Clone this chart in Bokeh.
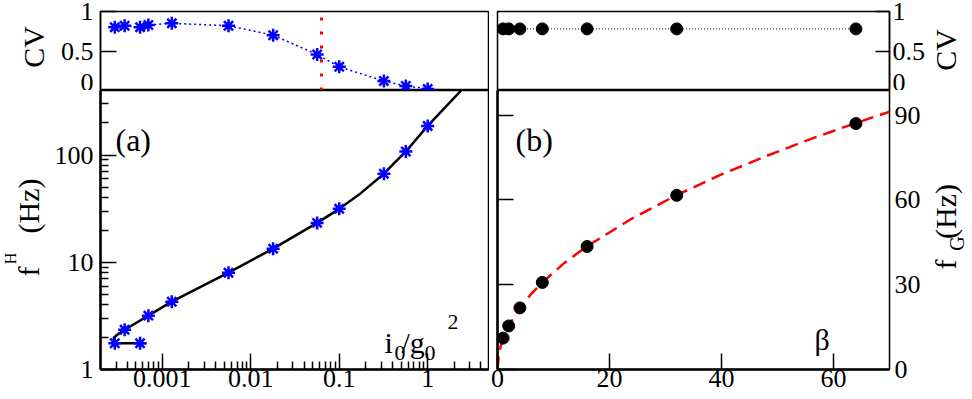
import math
from bokeh.plotting import figure
from bokeh.models import Range1d, FixedTicker, CustomJSTickFormatter, Label, LinearAxis
from bokeh.layouts import column, row
from bokeh.embed import file_html
from bokeh.resources import INLINE

# ---------------- data: panel (a) ----------------
a_ratio = [2.9e-4, 3.75e-4, 5.6e-4, 6.95e-4, 1.28e-3, 5.6e-3, 0.0179, 0.0563, 0.1, 0.32, 0.566, 1.0]
a_cv = [0.80, 0.82, 0.80, 0.83, 0.85, 0.82, 0.70, 0.456, 0.30, 0.12, 0.058, 0.02]
a_fH = [1.76, 2.35, 1.76, 3.18, 4.29, 8.0, 13.4, 23.3, 31.5, 67.0, 108.0, 187.0]
a_curve_ratio = [6.6e-4, 2.9e-4, 2.82e-4, 3.2e-4, 3.75e-4, 6.95e-4, 1.28e-3, 5.6e-3,
                 0.0179, 0.0563, 0.1, 0.174, 0.32, 0.566, 1.0, 2.39]
a_curve_fH = [1.76, 1.76, 1.98, 2.15, 2.35, 3.18, 4.29, 8.0,
              13.4, 23.3, 31.5, 43.9, 67.0, 108.0, 187.0, 400.0]
a_threshold = 0.063

# ---------------- data: panel (b) ----------------
b_beta = [1, 2, 4, 8, 16, 32, 64]
b_cv = [0.78, 0.78, 0.78, 0.78, 0.78, 0.78, 0.78]
b_fG = [11.1, 15.4, 21.8, 30.8, 43.5, 61.6, 87.0]
b_fit_beta = [0, 0.25, 0.5, 1, 2, 4, 6, 8, 12, 16, 24, 32, 40, 48, 56, 64, 70]
b_fit_fG = [0, 5.4, 7.7, 10.9, 15.4, 21.8, 26.7, 30.8, 37.8, 43.6, 53.4, 61.7, 69.0, 75.5, 81.6, 87.2, 91.2]

# ---------------- ticks ----------------
a_x_ticks = [0.001, 0.01, 0.1, 1]
a_x_labels = ["0.001", "0.01", "0.1", "1"]
a_x_minor = [k * 10.0 ** e for e in range(-4, 1) for k in range(2, 10) if 2.05e-4 < k * 10.0 ** e < 4.95]
a_y_ticks = [1, 10, 100]
a_y_labels = ["1", "10", "100"]
a_y_minor = [k * 10.0 ** e for e in range(0, 3) for k in range(2, 10) if k * 10.0 ** e < 399]
cv_ticks = [0, 0.5, 1]
cv_labels = ["0", "0.5", "1"]
b_x_ticks = [0, 20, 40, 60]
b_x_labels = ["0", "20", "40", "60"]
b_y_ticks = [0, 30, 60, 90]
b_y_labels = ["0", "30", "60", "90"]

FONT = "Liberation Serif"
TICK_FS = "26px"
PAGE_H = 399
UP = math.pi / 2   # text reading bottom-to-top

LEFT_STRIP_W = 50
RIGHT_STRIP_X0 = 926


def fmt(vals, labs):
    return CustomJSTickFormatter(args=dict(v=list(vals), l=list(labs)), code="""
for (let i = 0; i < v.length; i++) {
  if (Math.abs(v[i] - tick) <= 1e-9 * Math.max(1e-6, Math.abs(v[i]))) return l[i];
}
return '';""")


def style_axis(ax, ticks, minor=None, labels=None, tick_in=16, line_width=1.5, standoff=8, show_ticks=True):
    ax.ticker = FixedTicker(ticks=list(ticks), minor_ticks=list(minor or []))
    ax.major_tick_in = tick_in if show_ticks else 0
    ax.major_tick_out = 0
    ax.minor_tick_in = 8 if show_ticks else 0
    ax.minor_tick_out = 0
    ax.major_tick_line_width = 1.5
    ax.minor_tick_line_width = 1.5
    ax.major_tick_line_color = "black" if show_ticks else None
    ax.minor_tick_line_color = "black" if (show_ticks and minor) else None
    ax.axis_line_width = line_width if line_width > 0 else 1
    ax.axis_line_color = "black" if line_width > 0 else None
    if labels is not None:
        ax.formatter = fmt(ticks, labels)
        ax.major_label_text_font = FONT
        ax.major_label_text_font_size = TICK_FS
        ax.major_label_text_color = "black"
        ax.major_label_standoff = standoff
    else:
        ax.formatter = CustomJSTickFormatter(code="return '';")
        ax.major_label_text_font_size = "0px"
        ax.major_label_standoff = 0


def base(p):
    p.grid.visible = False
    p.outline_line_color = "black"
    p.outline_line_width = 1.5
    p.outline_line_alpha = 1.0
    p.background_fill_color = "white"
    p.border_fill_color = "white"


xr_a = Range1d(2e-4, 5)
xr_b = Range1d(0, 70)

common = dict(toolbar_location=None, output_backend="svg", title=None)
lb = 100 - LEFT_STRIP_W          # left border of the left panels
rb = RIGHT_STRIP_X0 - 889        # right border of the right panels

tl = figure(x_axis_type="log", x_range=xr_a, y_range=Range1d(0, 1), x_axis_location=None,
            frame_width=389, frame_height=79, min_border_left=lb, min_border_right=0,
            min_border_top=11, min_border_bottom=0, **common)
tr = figure(x_range=xr_b, y_range=Range1d(0, 1), x_axis_location=None, y_axis_location="right",
            frame_width=392, frame_height=79, min_border_left=8, min_border_right=rb,
            min_border_top=11, min_border_bottom=0, **common)
bl = figure(x_axis_type="log", y_axis_type="log", x_range=xr_a, y_range=Range1d(1, 400),
            frame_width=389, frame_height=279, min_border_left=lb, min_border_right=0,
            min_border_top=0, min_border_bottom=30, **common)
br = figure(x_range=xr_b, y_range=Range1d(0, 98.7),
            frame_width=392, frame_height=279, min_border_left=8, min_border_right=rb,
            min_border_top=0, min_border_bottom=30, **common)
for p in (tl, tr, bl, br):
    base(p)

# strips that hold the rotated axis titles (frame = whole strip; x = page px, y = px from page bottom)
left_strip = figure(width=LEFT_STRIP_W, height=PAGE_H, x_range=Range1d(0, LEFT_STRIP_W),
                    y_range=Range1d(0, PAGE_H), x_axis_location=None, y_axis_location=None,
                    min_border=0, **common)
right_strip = figure(width=972 - RIGHT_STRIP_X0, height=PAGE_H, x_range=Range1d(RIGHT_STRIP_X0, 972),
                     y_range=Range1d(0, PAGE_H), x_axis_location=None, y_axis_location=None,
                     min_border=0, **common)
for s in (left_strip, right_strip):
    s.grid.visible = False
    s.outline_line_color = None
    s.background_fill_color = "white"
    s.border_fill_color = "white"

# axes
style_axis(tl.yaxis[0], cv_ticks, labels=cv_labels, tick_in=16, line_width=1.5, standoff=7)
style_axis(tr.yaxis[0], cv_ticks, labels=cv_labels, tick_in=14, line_width=1.5, standoff=3)
style_axis(bl.yaxis[0], a_y_ticks, minor=a_y_minor, labels=a_y_labels, tick_in=16, line_width=2.5, standoff=7)
style_axis(bl.xaxis[0], a_x_ticks, minor=a_x_minor, labels=a_x_labels, tick_in=16, line_width=2.5, standoff=0)
style_axis(br.yaxis[0], b_y_ticks, labels=None, tick_in=16, line_width=2.5)
style_axis(br.xaxis[0], b_x_ticks, labels=b_x_labels, tick_in=16, line_width=2.5, standoff=0)
rax = LinearAxis()
style_axis(rax, b_y_ticks, labels=b_y_labels, line_width=0, show_ticks=False, standoff=5)
br.add_layout(rax, "right")

# ---------------- glyphs ----------------
tl.segment(x0=[a_threshold], y0=[0], x1=[a_threshold], y1=[1], line_color="red",
           line_width=3, line_dash="3 11")
tl.line(a_ratio, a_cv, line_color="blue", line_width=1.5, line_dash="2 3")
tl.scatter(a_ratio, a_cv, marker="asterisk", size=13, line_color="blue", line_width=2.5)

bl.line(a_curve_ratio, a_curve_fH, line_color="black", line_width=2.5)
bl.scatter(a_ratio, a_fH, marker="asterisk", size=13, line_color="blue", line_width=2.5)

tr.line(b_beta, b_cv, line_color="black", line_width=1, line_dash="1 2")
tr.scatter(b_beta, b_cv, marker="circle", size=12, fill_color="black", line_color="black")

br.line(b_fit_beta, b_fit_fG, line_color="red", line_width=2.5, line_dash="13 7")
br.scatter(b_beta, b_fG, marker="circle", size=12, fill_color="black", line_color="black")

# ---------------- texts ----------------
FRAMES = {
    "bl": (bl, 2e-4, 1, 100, 369),
    "br": (br, 0, 0, 497, 369),
}


def txt(key, text, X, Y, size, angle=0.0, align="left", baseline="alphabetic"):
    p, x0, y0, fl, fb = FRAMES[key]
    p.add_layout(Label(x=x0, y=y0, x_offset=X - fl, y_offset=fb - Y, text=text,
                       text_font=FONT, text_font_size=f"{size}px", angle=angle,
                       text_align=align, text_baseline=baseline, text_color="black"))


def stxt(strip, text, base_x, Y, size):
    # rotated title: base_x = page x of the text baseline, Y = page y of the text centre
    strip.add_layout(Label(x=base_x - 0.3375 * size, y=PAGE_H - Y, text=text, text_font=FONT,
                           text_font_size=f"{size}px", angle=UP, text_align="center",
                           text_baseline="middle", text_color="black"))


txt("bl", "(a)", 115, 139, 32)
txt("br", "(b)", 515, 139, 32)
txt("bl", "i", 384, 342, 30)
txt("bl", "0", 394, 352, 22)
txt("bl", "/g", 401, 342, 30)
txt("bl", "0", 424, 352, 22)
txt("bl", "2", 447, 321, 22)
txt("br", "\u03b2", 814, 339, 30)

stxt(left_strip, "CV", 43, 46.5, 30)
stxt(left_strip, "f", 38, 271, 30)
stxt(left_strip, "H", 15, 258, 16)
stxt(left_strip, "(Hz)", 38, 205.5, 30)
stxt(right_strip, "CV", 953, 49.5, 30)
stxt(right_strip, "f", 953, 264, 30)
stxt(right_strip, "G", 961, 243, 20)
stxt(right_strip, "(Hz)", 953, 211, 30)

layout = row(left_strip,
             column(row(tl, tr, spacing=0), row(bl, br, spacing=0), spacing=0),
             right_strip, spacing=0)
open("out.html", "w").write(file_html(layout, INLINE))
